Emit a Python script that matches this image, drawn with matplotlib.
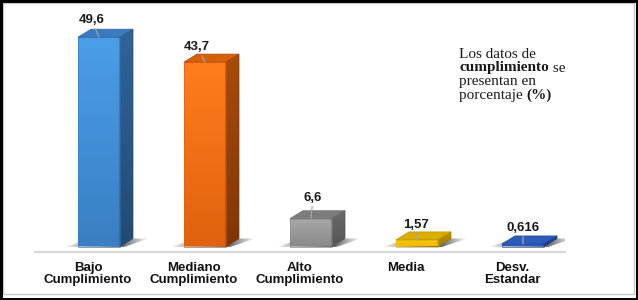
import numpy as np
import matplotlib
matplotlib.use("Agg")
import matplotlib.pyplot as plt
from matplotlib.patches import Polygon, Rectangle
from matplotlib.colors import to_rgb

#-------------
#data
#-------------
categories = ["Bajo\nCumplimiento", "Mediano\nCumplimiento", "Alto\nCumplimiento",
              "Media", "Desv.\nEstandar"]
values = [49.6, 43.7, 6.6, 1.57, 0.616]
value_labels = ["49,6", "43,7", "6,6", "1,57", "0,616"]

#colours per bar: front (top, bottom), side (top, bottom), top face
front_top = ["#4a9ee8", "#ff7d1c", "#a8a8a8", "#fcca10", "#3468cc"]
front_bot = ["#3a7fc4", "#e0620f", "#8a8a8a", "#f0bc00", "#2a58b4"]
side_top  = ["#30649a", "#a84c0c", "#6a6a6a", "#c09400", "#20489a"]
side_bot  = ["#234a72", "#7e3608", "#555555", "#a07c00", "#183a80"]
top_face  = ["#3a7cc0", "#d85f0c", "#7c7c7c", "#dcae00", "#2c5cbc"]

#label nudges (pixels), purely cosmetic
label_dx_px   = [-7, -8, 2, -1, 0]
label_lift_px = [14, 12, 18, 12, 13]

#-------------
#layout (pixels on a 638x300 canvas)
#-------------
W, H, DPI = 638, 300, 100
AX_LEFT, AX_RIGHT = 35, 565      #floor line extent
AX_BOTTOM, AX_TOP = 252, 10      #pixel rows (from top)
PX_PER_UNIT = 4.22               #value units -> pixels
BASE_GAP_PX = 5.5                #bars stand a bit above the floor line

n = len(values)
px_x = n / (AX_RIGHT - AX_LEFT)  #data x per pixel
px_y = 1.0 / PX_PER_UNIT         #data y per pixel

bar_shift = 11 * px_x            #3d bars sit right of the category slot
bar_w     = 42 * px_x
depth_x   = 13 * px_x
depth_y   = 8 * px_y

fig = plt.figure(figsize=(W / DPI, H / DPI), dpi=DPI)
ax = fig.add_axes([AX_LEFT / W, (H - AX_BOTTOM) / H,
                   (AX_RIGHT - AX_LEFT) / W, (AX_BOTTOM - AX_TOP) / H])
ax.patch.set_alpha(0)


def gradient_face(verts, c1, c2, z, edge):
    '''paint a polygon with a vertical gradient c1 (top) -> c2 (bottom)'''
    verts = np.asarray(verts)
    x0, y0 = verts.min(axis=0)
    x1, y1 = verts.max(axis=0)
    t = np.linspace(0, 1, 64)[:, None]
    img = (np.array(to_rgb(c1)) * (1 - t) + np.array(to_rgb(c2)) * t)[:, None, :]
    im = ax.imshow(img, extent=(x0, x1, y0, y1), origin="upper", aspect="auto",
                   interpolation="bilinear", zorder=z)
    poly = Polygon(verts, closed=True, facecolor="none", edgecolor=edge,
                   lw=0.5, zorder=z + 0.1)
    ax.add_patch(poly)
    im.set_clip_path(poly)


def floor_shadow(xl, xr):
    '''soft grey wedge on the floor behind a bar'''
    verts = np.array([(xl - 14 * px_x, -0.5 * px_y), (xr + 4 * px_x, -0.5 * px_y),
                      (xr + depth_x + 16 * px_x, depth_y), (xl + depth_x, depth_y)])
    x0, y0 = verts.min(axis=0)
    x1, y1 = verts.max(axis=0)
    s = np.linspace(0, 1, 128)
    alpha = np.interp(s, [0, 0.2, 0.7, 1.0], [0.0, 0.45, 0.9, 0.0])
    img = np.zeros((1, len(s), 4))
    img[..., :3] = 0.35
    img[..., 3] = alpha
    im = ax.imshow(img, extent=(x0, x1, y0, y1), aspect="auto",
                   interpolation="bilinear", zorder=1)
    poly = Polygon(verts, closed=True, facecolor="none", edgecolor="none")
    ax.add_patch(poly)
    im.set_clip_path(poly)


for i, v in enumerate(values):
    xl = i + bar_shift - bar_w / 2
    xr = i + bar_shift + bar_w / 2
    floor_shadow(xl, xr)

    front = [(xl, 0), (xr, 0), (xr, v), (xl, v)]
    side  = [(xr, 0), (xr + depth_x, depth_y), (xr + depth_x, v + depth_y), (xr, v)]
    top   = [(xl, v), (xr, v), (xr + depth_x, v + depth_y), (xl + depth_x, v + depth_y)]
    gradient_face(front, front_top[i], front_bot[i], 3, front_bot[i])
    gradient_face(side, side_top[i], side_bot[i], 3, side_bot[i])
    gradient_face(top, top_face[i], top_face[i], 3, side_top[i])

    ax.annotate(value_labels[i], xy=(i + bar_shift, v),
                xytext=(label_dx_px[i], label_lift_px[i]), textcoords="offset pixels",
                ha="center", va="baseline", fontsize=9.5, fontweight="bold",
                family="Liberation Sans", color="#1a1a1a", zorder=10,
                arrowprops=dict(arrowstyle="-", color="#a6a6a6", lw=0.9,
                                shrinkA=0, shrinkB=0))

ax.set_xlim(-0.5, n - 0.5)
ax.set_ylim(-BASE_GAP_PX * px_y, (AX_BOTTOM - BASE_GAP_PX - AX_TOP) * px_y)

for sp in ["top", "left", "right"]:
    ax.spines[sp].set_visible(False)
ax.spines["bottom"].set_color("#d9d9d9")
ax.spines["bottom"].set_linewidth(1.6)
ax.set_yticks([])
ax.set_xticks(range(n))
ax.set_xticklabels(categories, fontsize=9.5, fontweight="bold",
                   family="Liberation Sans", color="#111111", linespacing=1.0)
ax.tick_params(axis="x", length=0, pad=7.5)

#-------------
#note in the corner, with mixed bold runs
#-------------
note_lines = [
    [("Los datos de", "normal")],
    [("cumplimiento", "bold"), (" se", "normal")],
    [("presentan en", "normal")],
    [("porcentaje ", "normal"), ("(%)", "bold")],
]
note_x = 459
note_baselines = [58, 71.5, 85, 99]
renderer = fig.canvas.get_renderer()
for runs, yb in zip(note_lines, note_baselines):
    x = note_x
    for txt, weight in runs:
        t = fig.text(x / W, 1 - yb / H, txt, fontsize=11, fontweight=weight,
                     family="Liberation Serif", color="#1a1a1a",
                     ha="left", va="baseline")
        x = t.get_window_extent(renderer).x1

#-------------
#frames
#-------------
fig.patches.append(Rectangle((3 / W, 6 / H), 630.5 / W, 291 / H, transform=fig.transFigure,
                             fill=False, edgecolor="#c8c8c8", lw=1.0))
fig.patches.append(Rectangle((0, 0), 1, 1, transform=fig.transFigure,
                             fill=False, edgecolor="black", lw=3.6))

fig.savefig("out.png", dpi=DPI)
